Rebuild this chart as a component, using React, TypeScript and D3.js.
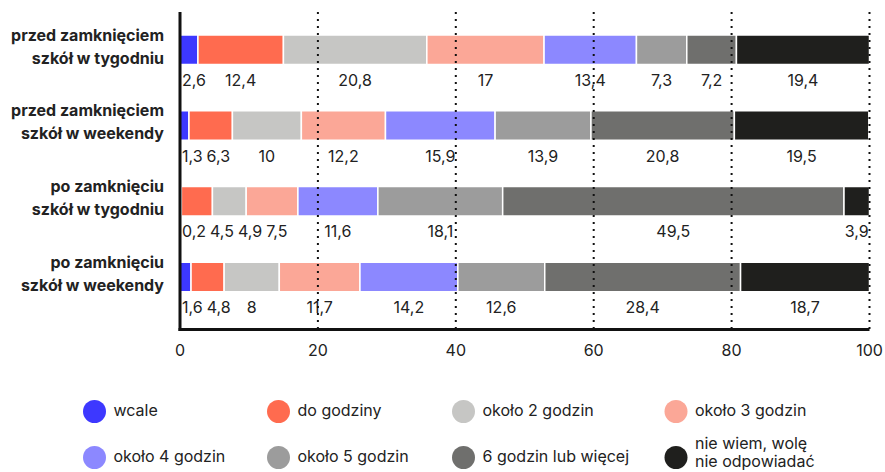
import React, { useRef, useEffect } from 'react';
import * as d3 from 'd3';

const categories = [
  ['przed zamknięciem', 'szkół w tygodniu'],
  ['przed zamknięciem', 'szkół w weekendy'],
  ['po zamknięciu', 'szkół w tygodniu'],
  ['po zamknięciu', 'szkół w weekendy'],
];

const seriesNames = [
  'wcale',
  'do godziny',
  'około 2 godzin',
  'około 3 godzin',
  'około 4 godzin',
  'około 5 godzin',
  '6 godzin lub więcej',
  'nie wiem, wolę nie odpowiadać',
];

const seriesColors = ['#3D38FF', '#FF6B4F', '#C6C6C4', '#FBA797', '#8C88FF', '#9C9C9C', '#6F6F6D', '#1F1F1D'];

// values per row, in series order
const row1 = [2.6, 12.4, 20.8, 17, 13.4, 7.3, 7.2, 19.4];
const row2 = [1.3, 6.3, 10, 12.2, 15.9, 13.9, 20.8, 19.5];
const row3 = [0.2, 4.5, 4.9, 7.5, 11.6, 18.1, 49.5, 3.9];
const row4 = [1.6, 4.8, 8, 11.7, 14.2, 12.6, 28.4, 18.7];
const rows = [row1, row2, row3, row4];

const xTicks = [0, 20, 40, 60, 80, 100];

const FONT = 'Inter, "Noto Sans", sans-serif';
const TEXT = '#222';
const FS = 16;

const App: React.FC = () => {
  const svgRef = useRef<SVGSVGElement | null>(null);

  useEffect(() => {
    if (!svgRef.current) return;
    const svg = d3.select(svgRef.current);
    svg.selectAll('*').remove();

    const x = d3.scaleLinear().domain([0, 100]).range([180, 869.5]);
    const y = d3.scaleBand<number>().domain(d3.range(categories.length)).range([27, 330]);
    const barOffset = 8;
    const barH = 29.5;
    const axisTop = 12;
    const axisBottom = 329.5;

    // bars
    rows.forEach((vals, ri) => {
      const g = svg.append('g');
      let acc = 0;
      const segs = vals.map((v, i) => {
        const s = { x0: acc, x1: acc + v, v, i };
        acc += v;
        return s;
      });
      const y0 = (y(ri) ?? 0) + barOffset;
      g.selectAll('rect')
        .data(segs)
        .join('rect')
        .attr('x', d => x(d.x0))
        .attr('width', d => Math.max(0, x(Math.min(d.x1, 100)) - x(d.x0)))
        .attr('y', y0)
        .attr('height', barH)
        .attr('fill', d => seriesColors[d.i])
        .attr('stroke', '#fff')
        .attr('stroke-width', 1.5);

      // value labels, pushed right when they would overlap
      const labels = g.selectAll('text.val')
        .data(segs)
        .join('text')
        .attr('class', 'val')
        .attr('y', y0 + barH + 17)
        .attr('dominant-baseline', 'middle')
        .attr('font-family', FONT)
        .attr('font-size', FS)
        .attr('fill', TEXT)
        .text(d => String(d.v).replace('.', ','));
      let prevRight = 178;
      labels.each(function (d) {
        const el = this as SVGTextElement;
        const w = el.getComputedTextLength();
        let left = (x(d.x0) + x(Math.min(d.x1, 100))) / 2 - w / 2;
        if (left < prevRight + 4) left = prevRight + 4;
        el.setAttribute('x', String(left));
        prevRight = left + w;
      });

      // category label
      const cy = y0 + barH / 2;
      const lab = svg.append('text')
        .attr('text-anchor', 'end')
        .attr('font-family', FONT)
        .attr('font-size', FS)
        .attr('font-weight', 700)
        .attr('fill', TEXT);
      lab.append('tspan').attr('x', 164).attr('y', cy - 13.5).attr('dominant-baseline', 'middle').text(categories[ri][0]);
      lab.append('tspan').attr('x', 164).attr('y', cy + 9.5).attr('dominant-baseline', 'middle').text(categories[ri][1]);
    });

    // dotted grid lines on top
    svg.append('g')
      .selectAll('line')
      .data(xTicks.filter(t => t > 0))
      .join('line')
      .attr('x1', d => x(d))
      .attr('x2', d => x(d))
      .attr('y1', axisTop)
      .attr('y2', axisBottom)
      .attr('stroke', '#111')
      .attr('stroke-width', 2)
      .attr('stroke-dasharray', '2,5');

    // axes
    svg.append('line')
      .attr('x1', x(0)).attr('x2', x(0))
      .attr('y1', axisTop).attr('y2', axisBottom + 1.5)
      .attr('stroke', '#111').attr('stroke-width', 3);
    svg.append('line')
      .attr('x1', x(0) - 1.5).attr('x2', x(100))
      .attr('y1', axisBottom).attr('y2', axisBottom)
      .attr('stroke', '#111').attr('stroke-width', 3);

    svg.append('g')
      .selectAll('text')
      .data(xTicks)
      .join('text')
      .attr('x', d => x(d))
      .attr('y', 352)
      .attr('text-anchor', 'middle')
      .attr('dominant-baseline', 'middle')
      .attr('font-family', FONT)
      .attr('font-size', FS)
      .attr('fill', TEXT)
      .text(d => String(d));

    // legend
    const legX = [94.5, 278.5, 463.5, 676];
    const legY = [411.5, 457.5];
    seriesNames.forEach((name, i) => {
      const cx = legX[i % 4];
      const cy = legY[Math.floor(i / 4)];
      svg.append('circle')
        .attr('cx', cx).attr('cy', cy).attr('r', 11.5)
        .attr('fill', seriesColors[i]);
      const t = svg.append('text')
        .attr('font-family', FONT)
        .attr('font-size', FS)
        .attr('fill', TEXT);
      if (i === 7) {
        t.append('tspan').attr('x', cx + 19).attr('y', cy - 13).attr('dominant-baseline', 'middle').text('nie wiem, wolę');
        t.append('tspan').attr('x', cx + 19).attr('y', cy + 5.5).attr('dominant-baseline', 'middle').text('nie odpowiadać');
      } else {
        t.attr('x', cx + 19).attr('y', cy).attr('dominant-baseline', 'middle').text(name);
      }
    });
  }, []);

  return (
    <svg
      ref={svgRef}
      width={885}
      height={472}
      style={{ position: 'absolute', left: 0, top: 0, background: '#fff' }}
    />
  );
};

export default App;
